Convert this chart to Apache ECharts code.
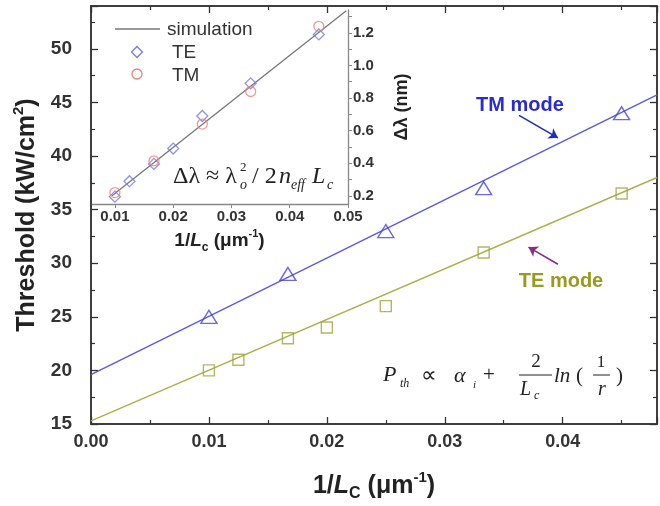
<!DOCTYPE html>
<html>
<head>
<meta charset="utf-8">
<script src="https://cdn.jsdelivr.net/npm/echarts@6/dist/echarts.min.js"></script>
<style>html,body{margin:0;padding:0;background:#fff}#c{width:660px;height:506px}</style>
</head>
<body>
<div id="c"></div>
<script>
// ---- data ----
const tmX = [0.01, 0.0167, 0.025, 0.0333, 0.045];
const tmY = [25, 29, 33, 37, 44];
const teX = [0.01, 0.0125, 0.0167, 0.02, 0.025, 0.0333, 0.045];
const teY = [20, 21, 23, 24, 26, 31, 36.5];
const fitX = [0, 0.048];
const tmFit = [19.6, 45.7];
const teFit = [15.3, 38.0];

const insetTEX = [0.01, 0.0125, 0.0167, 0.02, 0.025, 0.0333, 0.045];
const insetTEY = [0.195, 0.29, 0.396, 0.49, 0.69, 0.89, 1.19];
const insetTMX = [0.01, 0.0167, 0.025, 0.0333, 0.045];
const insetTMY = [0.22, 0.415, 0.64, 0.84, 1.24];
const simX = [0.0095, 0.0497];
const simY = [0.2, 1.335];

const insetXTicks = [0.01, 0.02, 0.03, 0.04, 0.05];
const insetYTicks = [0.2, 0.4, 0.6, 0.8, 1.0, 1.2];
const insetYMinor = [0.2,0.3,0.4,0.5,0.6,0.7,0.8,0.9,1.0,1.1,1.2,1.3];
const legendNames = ['simulation', 'TE', 'TM'];

const tmArrow = [[0.0363, 43.8], [0.0396, 41.7]];
const teArrow = [[0.0396, 29.9], [0.0371, 31.5]];

const pairs = (xs, ys) => xs.map((x, i) => [x, ys[i]]);

const SANS = 'Arial, "Liberation Sans", sans-serif';
const SERIF = '"Times New Roman", "Liberation Serif", serif';
const AX = '#333';
const SIM = '#777', TEC = '#7777ee', TMC = '#ee8080';

const chart = echarts.init(document.getElementById('c'), null, {renderer: 'canvas'});

function mainAxisCommon(pos) {
  return {
    axisLine: {show: true, onZero: false, lineStyle: {color: AX, width: 1.5}},
    axisTick: {show: true, inside: true, length: 7, lineStyle: {color: AX, width: 1.3}},
    minorTick: {show: true, splitNumber: 2, length: 4, lineStyle: {color: AX, width: 1.2}},
    splitLine: {show: false},
    position: pos
  };
}

const option = {
  backgroundColor: '#fff',
  animation: false,
  grid: [
    {left: 91, right: 3, top: 6, bottom: 82, show: false, containLabel: false, outerBoundsMode: 'none'},
    {left: 91, right: 312, top: 10, bottom: 302, show: false, containLabel: false, outerBoundsMode: 'none'}
  ],
  xAxis: [
    Object.assign(mainAxisCommon('bottom'), {
      type: 'value', gridIndex: 0, min: 0, max: 0.048, interval: 0.01,
      axisLabel: {formatter: v => v.toFixed(2), showMaxLabel: false, fontFamily: SANS, fontWeight: 'bold', fontSize: 18, color: '#333', margin: 9},
      name: '{a|1/}{i|L}{sub|C}{a| (μm}{sup|-1}{a|)}',
      nameLocation: 'middle', nameGap: 46,
      nameTextStyle: {
        rich: {
          a: {fontFamily: SANS, fontWeight: 'bold', fontSize: 25, color: '#222', lineHeight: 32},
          i: {fontFamily: SANS, fontWeight: 'bold', fontStyle: 'italic', fontSize: 25, color: '#222', lineHeight: 32},
          sub: {fontFamily: SANS, fontWeight: 'bold', fontSize: 16, color: '#222', verticalAlign: 'bottom'},
          sup: {fontFamily: SANS, fontWeight: 'bold', fontSize: 15, color: '#222', verticalAlign: 'top'}
        }
      }
    }),
    Object.assign(mainAxisCommon('top'), {
      type: 'value', gridIndex: 0, min: 0, max: 0.048, interval: 0.01,
      axisLabel: {show: false}
    }),
    {
      type: 'value', gridIndex: 1, min: 0.0059, max: 0.05, position: 'bottom',
      axisLine: {show: true, onZero: false, lineStyle: {color: '#888', width: 1.3}},
      axisTick: {show: true, inside: false, length: 4, customValues: insetXTicks, lineStyle: {color: '#888'}},
      axisLabel: {customValues: insetXTicks, formatter: v => v.toFixed(2), fontFamily: SANS, fontWeight: 'bold', fontSize: 15, color: '#333', margin: 5},
      splitLine: {show: false},
      name: '{a|1/}{i|L}{sub|c}{a| (μm}{sup|-1}{a|)}',
      nameLocation: 'middle', nameGap: 24,
      nameTextStyle: {
        rich: {
          a: {fontFamily: SANS, fontWeight: 'bold', fontSize: 19, color: '#222', lineHeight: 26},
          i: {fontFamily: SANS, fontWeight: 'bold', fontStyle: 'italic', fontSize: 19, color: '#222', lineHeight: 26},
          sub: {fontFamily: SANS, fontWeight: 'bold', fontSize: 12, color: '#222', verticalAlign: 'bottom'},
          sup: {fontFamily: SANS, fontWeight: 'bold', fontSize: 11, color: '#222', verticalAlign: 'top'}
        }
      }
    }
  ],
  yAxis: [
    Object.assign(mainAxisCommon('left'), {
      type: 'value', gridIndex: 0, min: 15, max: 54, interval: 5,
      axisLabel: {showMaxLabel: false, fontFamily: SANS, fontWeight: 'bold', fontSize: 19, color: '#333', margin: 19},
      name: '{a|Threshold (kW/cm}{sup|2}{a|)}',
      nameLocation: 'middle', nameGap: 48, nameRotate: 90,
      nameTextStyle: {
        rich: {
          a: {fontFamily: SANS, fontWeight: 'bold', fontSize: 25, color: '#222', lineHeight: 32},
          sup: {fontFamily: SANS, fontWeight: 'bold', fontSize: 15, color: '#222', verticalAlign: 'top'}
        }
      }
    }),
    Object.assign(mainAxisCommon('right'), {
      type: 'value', gridIndex: 0, min: 15, max: 54, interval: 5,
      axisLabel: {show: false}
    }),
    {
      type: 'value', gridIndex: 1, min: 0.15, max: 1.34, position: 'right',
      axisLine: {show: true, onZero: false, lineStyle: {color: '#888', width: 1.3}},
      axisTick: {show: true, inside: false, length: 4, customValues: insetYMinor, lineStyle: {color: '#888'}},
      axisLabel: {customValues: insetYTicks, formatter: v => v.toFixed(1), fontFamily: SANS, fontWeight: 'bold', fontSize: 15, color: '#333', margin: 5},
      splitLine: {show: false},
      name: 'Δλ (nm)', nameLocation: 'middle', nameRotate: 90, nameGap: 45,
      nameTextStyle: {fontFamily: SANS, fontWeight: 'bold', fontSize: 18, color: '#222'}
    }
  ],
  series: [
    {type: 'line', name: 'TM fit', xAxisIndex: 0, yAxisIndex: 0, data: pairs(fitX, tmFit), symbol: 'none',
     lineStyle: {color: '#5a5ae6', width: 1.4}, z: 2,
     markLine: {silent: true, symbol: ['none', 'arrow'], symbolSize: 9, label: {show: false},
       lineStyle: {color: '#1c2fb8', width: 1.6, type: 'solid'},
       data: [[{coord: tmArrow[0]}, {coord: tmArrow[1]}]]}},
    {type: 'line', name: 'TE fit', xAxisIndex: 0, yAxisIndex: 0, data: pairs(fitX, teFit), symbol: 'none',
     lineStyle: {color: '#abb04c', width: 1.4}, z: 2,
     markLine: {silent: true, symbol: ['none', 'arrow'], symbolSize: 9, label: {show: false},
       lineStyle: {color: '#8a2d86', width: 1.6, type: 'solid'},
       data: [[{coord: teArrow[0]}, {coord: teArrow[1]}]]}},
    {type: 'scatter', name: 'TM mode', xAxisIndex: 0, yAxisIndex: 0, data: pairs(tmX, tmY), symbol: 'triangle', symbolSize: [16, 13],
     itemStyle: {color: 'rgba(255,255,255,0)', borderColor: '#4444dd', borderWidth: 1.4}, z: 3},
    {type: 'scatter', name: 'TE mode', xAxisIndex: 0, yAxisIndex: 0, data: pairs(teX, teY), symbol: 'rect', symbolSize: 11,
     itemStyle: {color: 'rgba(255,255,255,0)', borderColor: '#a3a242', borderWidth: 1.4}, z: 3},
    {type: 'line', name: legendNames[0], xAxisIndex: 2, yAxisIndex: 2, data: pairs(simX, simY), symbol: 'none',
     lineStyle: {color: SIM, width: 1.3}, z: 2},
    {type: 'scatter', name: legendNames[1], xAxisIndex: 2, yAxisIndex: 2, data: pairs(insetTEX, insetTEY), symbol: 'diamond', symbolSize: 11,
     itemStyle: {color: 'rgba(255,255,255,0)', borderColor: TEC, borderWidth: 1.3}, z: 3},
    {type: 'scatter', name: legendNames[2], xAxisIndex: 2, yAxisIndex: 2, data: pairs(insetTMX, insetTMY), symbol: 'circle', symbolSize: 10,
     itemStyle: {color: 'rgba(255,255,255,0)', borderColor: TMC, borderWidth: 1.3}, z: 3}
  ],
  graphic: [
    // main frame
    {type: 'rect', shape: {x: 91, y: 6, width: 566, height: 418}, style: {fill: 'none', stroke: AX, lineWidth: 1.5}, silent: true, z: 1},
    // inset legend
    {type: 'line', shape: {x1: 115, y1: 29, x2: 160, y2: 29}, style: {stroke: SIM, lineWidth: 1.3}},
    {type: 'text', x: 167, y: 30, style: {text: legendNames[0], font: '19px ' + SANS, fill: '#333', verticalAlign: 'middle'}},
    {type: 'polygon', shape: {points: [[137, 46.5], [142.5, 52], [137, 57.5], [131.5, 52]]}, style: {fill: 'none', stroke: TEC, lineWidth: 1.3}},
    {type: 'text', x: 172, y: 53, style: {text: legendNames[1], font: '19px ' + SANS, fill: '#333', verticalAlign: 'middle'}},
    {type: 'circle', shape: {cx: 137, cy: 74, r: 5}, style: {fill: 'none', stroke: TMC, lineWidth: 1.3}},
    {type: 'text', x: 172, y: 76, style: {text: legendNames[2], font: '19px ' + SANS, fill: '#333', verticalAlign: 'middle'}},
    // mode labels
    {type: 'text', x: 520, y: 105, style: {text: 'TM mode', font: 'bold 20px ' + SANS, fill: '#2b2bd6', align: 'center', verticalAlign: 'middle'}},
    {type: 'text', x: 561, y: 281, style: {text: 'TE mode', font: 'bold 20px ' + SANS, fill: '#999a1e', align: 'center', verticalAlign: 'middle'}},
    // main formula
    {type: 'text', x: 383, y: 375, style: {text: 'P', font: 'italic 22px ' + SERIF, fill: '#222', verticalAlign: 'middle'}},
    {type: 'text', x: 400, y: 384, style: {text: 'th', font: 'italic 12px ' + SERIF, fill: '#222', verticalAlign: 'middle'}},
    {type: 'text', x: 421, y: 376, style: {text: '∝', font: '22px ' + SERIF, fill: '#222', verticalAlign: 'middle'}},
    {type: 'text', x: 454, y: 376, style: {text: 'α', font: 'italic 22px ' + SERIF, fill: '#222', verticalAlign: 'middle'}},
    {type: 'text', x: 473, y: 385, style: {text: 'i', font: 'italic 11px ' + SERIF, fill: '#222', verticalAlign: 'middle'}},
    {type: 'text', x: 483, y: 375, style: {text: '+', font: '21px ' + SERIF, fill: '#222', verticalAlign: 'middle'}},
    {type: 'text', x: 536, y: 362, style: {text: '2', font: '19px ' + SERIF, fill: '#222', align: 'center', verticalAlign: 'middle'}},
    {type: 'line', shape: {x1: 519, y1: 375, x2: 552, y2: 375}, style: {stroke: '#222', lineWidth: 1}},
    {type: 'text', x: 520, y: 390, style: {text: 'L', font: 'italic 20px ' + SERIF, fill: '#222', verticalAlign: 'middle'}},
    {type: 'text', x: 534, y: 396, style: {text: 'c', font: 'italic 12px ' + SERIF, fill: '#222', verticalAlign: 'middle'}},
    {type: 'text', x: 554, y: 376, style: {text: 'ln', font: 'italic 21px ' + SERIF, fill: '#222', verticalAlign: 'middle'}},
    {type: 'text', x: 576, y: 376, style: {text: '(', font: '21px ' + SERIF, fill: '#222', verticalAlign: 'middle'}},
    {type: 'text', x: 601, y: 363, style: {text: '1', font: '17px ' + SERIF, fill: '#222', align: 'center', verticalAlign: 'middle'}},
    {type: 'line', shape: {x1: 593, y1: 375, x2: 610, y2: 375}, style: {stroke: '#222', lineWidth: 1}},
    {type: 'text', x: 602, y: 390, style: {text: 'r', font: 'italic 20px ' + SERIF, fill: '#222', align: 'center', verticalAlign: 'middle'}},
    {type: 'text', x: 616, y: 376, style: {text: ')', font: '21px ' + SERIF, fill: '#222', verticalAlign: 'middle'}},
    // inset formula
    {type: 'text', x: 173, y: 177, style: {text: 'Δλ ≈ λ', font: '24px ' + SERIF, fill: '#222', verticalAlign: 'middle'}},
    {type: 'text', x: 240, y: 168, style: {text: '2', font: '13px ' + SERIF, fill: '#222', verticalAlign: 'middle'}},
    {type: 'text', x: 240, y: 185, style: {text: 'o', font: 'italic 14px ' + SERIF, fill: '#222', verticalAlign: 'middle'}},
    {type: 'text', x: 252, y: 177, style: {text: '/ 2', font: '24px ' + SERIF, fill: '#222', verticalAlign: 'middle'}},
    {type: 'text', x: 279, y: 177, style: {text: 'n', font: 'italic 24px ' + SERIF, fill: '#222', verticalAlign: 'middle'}},
    {type: 'text', x: 291, y: 185, style: {text: 'eff', font: 'italic 14px ' + SERIF, fill: '#222', verticalAlign: 'middle'}},
    {type: 'text', x: 312, y: 177, style: {text: 'L', font: 'italic 24px ' + SERIF, fill: '#222', verticalAlign: 'middle'}},
    {type: 'text', x: 327, y: 185, style: {text: 'c', font: 'italic 14px ' + SERIF, fill: '#222', verticalAlign: 'middle'}}
  ]
};
chart.setOption(option);
</script>
</body>
</html>
